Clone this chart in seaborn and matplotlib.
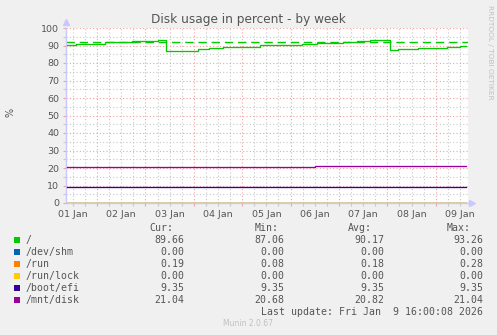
import numpy as np
import pandas as pd
import matplotlib
matplotlib.use("Agg")
import matplotlib.pyplot as plt
from matplotlib.ticker import MultipleLocator, FixedLocator, FuncFormatter, NullFormatter
from matplotlib.patches import Rectangle
import seaborn as sns

# ---------------- data (hours since 01 Jan 00:00) ----------------
root_hours = [9, 13.6, 28.1, 33.8, 41.2, 54.4, 58.1, 74.2, 79.7, 86.3, 104.8, 125.5,
              133.0, 146.1, 152.8, 159.4, 169.3, 173.4, 183.3, 197.4, 204.0, 207.0]
root_vals = [90.4, 91.0, 91.8, 91.9, 92.5, 93.26, 87.06, 88.0, 88.6, 89.1, 90.1, 90.9,
             91.4, 92.0, 92.4, 93.1, 87.2, 88.2, 88.6, 89.1, 89.66, 89.66]

shm_hours = [9, 207.0]
shm_vals = [0.0, 0.0]

run_hours = [9, 40, 80, 120, 160, 207.0]
run_vals = [0.10, 0.15, 0.28, 0.08, 0.22, 0.19]

lock_hours = [9, 207.0]
lock_vals = [0.0, 0.0]

efi_hours = [9, 207.0]
efi_vals = [9.35, 9.35]

mnt_hours = [9, 132.1, 207.0]
mnt_vals = [20.68, 21.04, 21.04]

warning_level = 92

mounts = ["/", "/dev/shm", "/run", "/run/lock", "/boot/efi", "/mnt/disk"]
colors = ["#00CC00", "#0066B3", "#FF8000", "#FFCC00", "#330099", "#990099"]
cur_vals = ["89.66", "0.00", "0.19", "0.00", "9.35", "21.04"]
min_vals = ["87.06", "0.00", "0.08", "0.00", "9.35", "20.68"]
avg_vals = ["90.17", "0.00", "0.18", "0.00", "9.35", "20.82"]
max_vals = ["93.26", "0.00", "0.28", "0.00", "9.35", "21.04"]

day_labels = ["01 Jan", "02 Jan", "03 Jan", "04 Jan", "05 Jan",
              "06 Jan", "07 Jan", "08 Jan", "09 Jan"]

title = "Disk usage in percent - by week"
last_update = "Last update: Fri Jan  9 16:00:08 2026"
footer = "Munin 2.0.67"

# ---------------- build table ----------------
series = [(root_hours, root_vals), (shm_hours, shm_vals), (run_hours, run_vals),
          (lock_hours, lock_vals), (efi_hours, efi_vals), (mnt_hours, mnt_vals)]
frames = []
for m, (h, v) in zip(mounts, series):
    frames.append(pd.DataFrame({"hours": h, "value": v, "mount": m}))
df = pd.concat(frames, ignore_index=True)

# ---------------- figure ----------------
W, H = 497, 335
fig = plt.figure(figsize=(W / 100, H / 100), dpi=100, facecolor="#F0F0F0")
x0, x1, ytop, ybot = 66, 468, 28, 203
ax = fig.add_axes([x0 / W, 1 - ybot / H, (x1 - x0) / W, (ybot - ytop) / H])
ax.set_facecolor("white")

xmin, xmax = 8.6, 208.0
ax.set_xlim(xmin, xmax)
ax.set_ylim(0, 100)

# grid
major_x = list(range(24, 200, 24))
ax.xaxis.set_major_locator(FixedLocator(major_x))
ax.xaxis.set_major_formatter(NullFormatter())
minor_x = list(np.arange(12, 208, 6))
ax.xaxis.set_minor_locator(FixedLocator(minor_x))

def xfmt(v, pos):
    if int(round(v)) % 24 == 12:
        i = int(round(v)) // 24
        if 0 <= i < len(day_labels):
            return day_labels[i]
    return ""
ax.xaxis.set_minor_formatter(FuncFormatter(xfmt))

ax.yaxis.set_major_locator(MultipleLocator(10))
ax.yaxis.set_minor_locator(MultipleLocator(5))

ax.grid(which="major", color="#F2A0A0", linestyle=(0, (1, 2)), linewidth=0.8)
ax.grid(which="minor", color="#C8C8C8", linestyle=(0, (1, 2)), linewidth=0.8)
ax.set_axisbelow(True)

txtc = "#555555"
ax.tick_params(axis="both", which="both", labelsize=6.8, labelcolor=txtc, length=2, width=0.8)
ax.tick_params(axis="x", which="major", color="#F2A0A0", pad=3)
ax.tick_params(axis="x", which="minor", color="#C8C8C8", pad=3)
ax.tick_params(axis="y", which="major", color="#F2A0A0", pad=3)
ax.tick_params(axis="y", which="minor", color="#C8C8C8")

for s in ["top", "right"]:
    ax.spines[s].set_visible(False)
for s in ["left", "bottom"]:
    ax.spines[s].set_color("#C8C8FF")
    ax.spines[s].set_linewidth(1.0)

# data
ax.axhline(warning_level, color="#00CC00", linestyle=(0, (6, 3.5)), linewidth=1.0, zorder=2)
sns.lineplot(data=df, x="hours", y="value", hue="mount", hue_order=mounts,
             palette=dict(zip(mounts, colors)), drawstyle="steps-post",
             estimator=None, linewidth=0.95, legend=False, ax=ax, zorder=3)
ax.set_xlabel("")
ax.set_ylabel("")

# arrows
ax.plot([0], [1.035], marker="^", markersize=5, color="#C8C8FF", transform=ax.transAxes, clip_on=False)
ax.plot([1.01], [0], marker=">", markersize=5, color="#C8C8FF", transform=ax.transAxes, clip_on=False)

# texts
def fx(px):
    return px / W

def fy(py):
    return 1 - py / H

fig.text(fx(248), fy(19), title, ha="center", va="center", fontsize=8.7, color=txtc)
fig.text(fx(10), fy(112), "%", ha="center", va="center", rotation=90, fontsize=7, color=txtc)
fig.text(fx(490), fy(5), "RRDTOOL / TOBI OETIKER", ha="center", va="top", rotation=270,
         fontsize=5.3, color="#C0C0C0")

mono = dict(family="DejaVu Sans Mono", fontsize=7.1, color=txtc, va="center")
fig.text(fx(149), fy(228), "Cur:", ha="left", **mono)
fig.text(fx(255), fy(228), "Min:", ha="left", **mono)
fig.text(fx(348), fy(228), "Avg:", ha="left", **mono)
fig.text(fx(447), fy(228), "Max:", ha="left", **mono)

for i, m in enumerate(mounts):
    yy = 240 + 12 * i
    fig.patches.append(Rectangle((fx(14), fy(yy + 3)), 6 / W, 6 / H, transform=fig.transFigure,
                                 facecolor=colors[i], edgecolor="none"))
    fig.text(fx(26), fy(yy), m, ha="left", **mono)
    fig.text(fx(184), fy(yy), cur_vals[i], ha="right", **mono)
    fig.text(fx(284), fy(yy), min_vals[i], ha="right", **mono)
    fig.text(fx(384), fy(yy), avg_vals[i], ha="right", **mono)
    fig.text(fx(483), fy(yy), max_vals[i], ha="right", **mono)

fig.text(fx(483), fy(312), last_update, ha="right", **mono)
fig.text(fx(248), fy(324), footer, ha="center", va="center", fontsize=5.5, color="#C0C0C0")

fig.savefig("out.png", dpi=100, facecolor=fig.get_facecolor())
